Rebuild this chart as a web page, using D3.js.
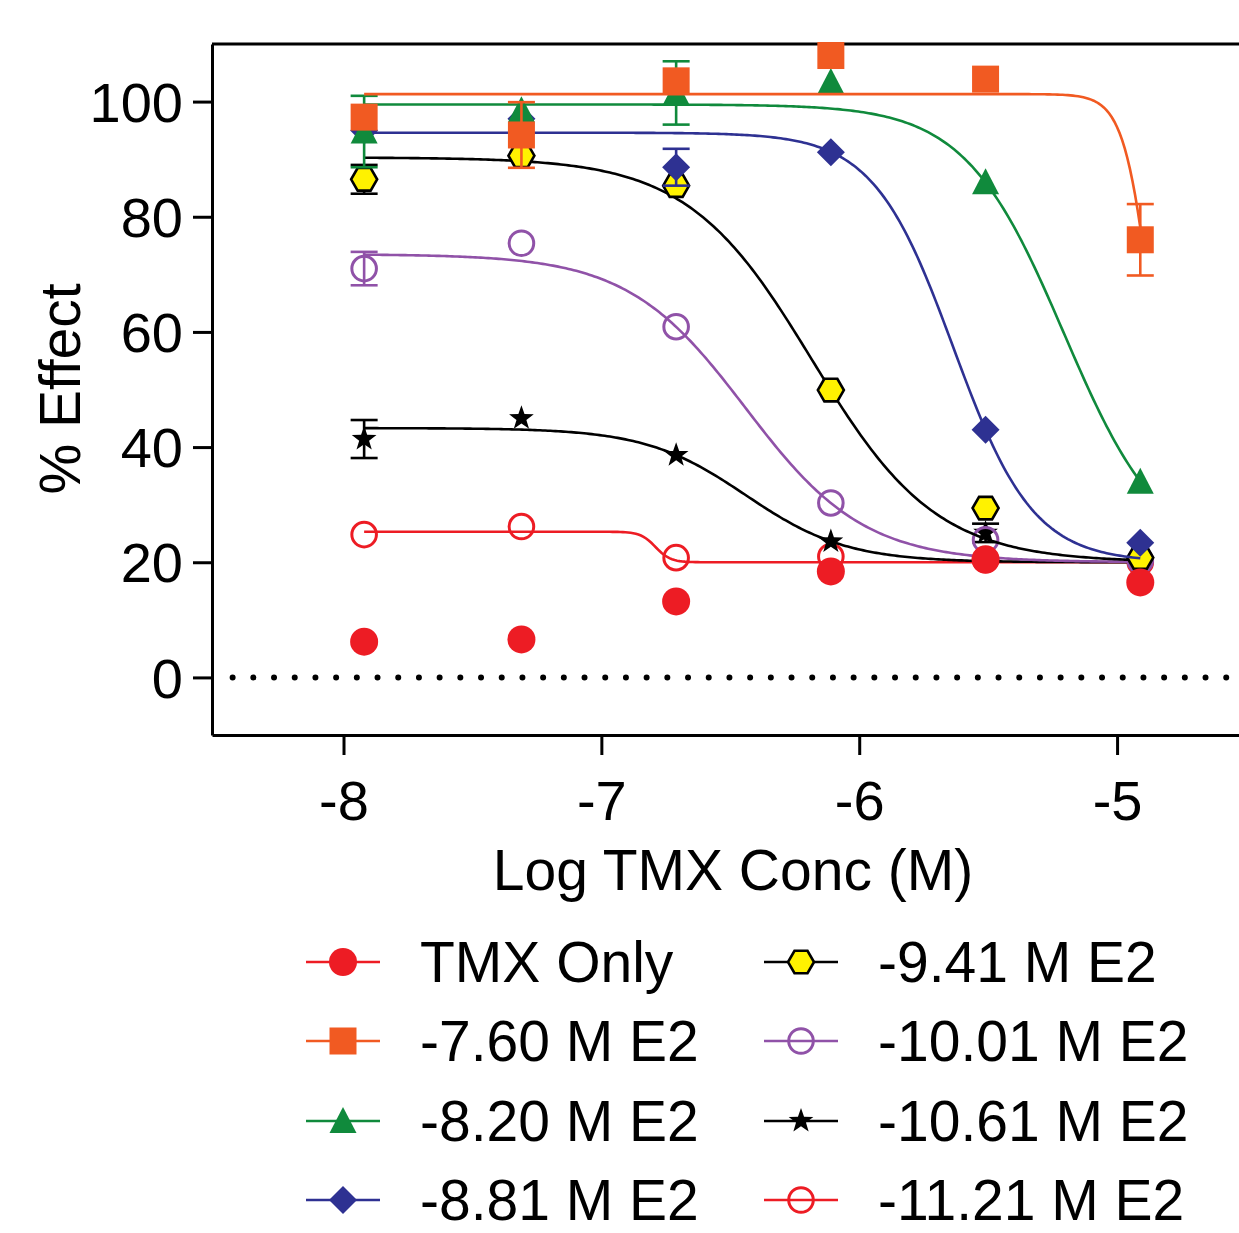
<!doctype html>
<html>
<head>
<meta charset="UTF-8">
<script src="https://cdnjs.cloudflare.com/ajax/libs/d3/7.8.5/d3.min.js"></script>
<style>
  body { margin: 0; background: #fff; }
  text { font-family: "Liberation Sans", Arial, sans-serif; fill: #000; }
</style>
</head>
<body>
<svg id="chart" width="1239" height="1233"></svg>
<script>
// log TMX concentration (M)
var logConc = [-7.92, -7.31, -6.71, -6.11, -5.51, -4.91];
var xTicks = [-8, -7, -6, -5];
var yTicks = [0, 20, 40, 60, 80, 100];

var labels = ["TMX Only", "-7.60 M E2", "-8.20 M E2", "-8.81 M E2",
              "-9.41 M E2", "-10.01 M E2", "-10.61 M E2", "-11.21 M E2"];

// % effect, one array per series
var tmxOnly = [6.2, 6.6, 13.2, 18.4, 20.5, 16.5];
var e2_760  = [97.3, 94.2, 103.6, 108.0, 103.9, 76.0];
var e2_820  = [94.8, 98.5, 101.5, 103.4, 86.0, 34.0];
var e2_881  = [95.0, 97.0, 88.6, 91.2, 43.0, 23.4];
var e2_941  = [86.5, 90.6, 85.4, 49.9, 29.4, 20.8];
var e2_1001 = [71.0, 75.4, 60.9, 30.3, 23.9, 20.3];
var e2_1061 = [41.4, 45.0, 38.6, 23.6, 25.1, 20.6];
var e2_1121 = [24.8, 26.2, 20.8, 21.0, 20.4, 20.0];

// SEM (0 = bar hidden behind the symbol)
var err_tmx  = [0, 0, 0, 0, 0, 0];
var err_760  = [0, 5.7, 0, 0, 0, 6.2];
var err_820  = [6.2, 0, 5.5, 0, 0, 0];
var err_881  = [0, 0, 3.2, 0, 0, 0];
var err_941  = [2.5, 0, 0, 0, 0, 0];
var err_1001 = [2.9, 0, 0, 0, 0, 0];
var err_1061 = [3.3, 0, 0, 0, 1.6, 0];
var err_1121 = [0, 0, 0, 0, 0, 0];

// fitted curves (null = no fit)
var fitTop    = [null, 101.3, 99.5, 94.6, 90.3, 73.5, 43.3, 25.3];
var fitBottom = [null, 20, 20, 20, 20, 20, 20, 20];
var fitIC50   = [null, -4.86, -5.206, -5.635, -6.183, -6.44, -6.44, -6.79];
var fitHill   = [null, 8, 2.26, 2.8, 1.8, 1.89, 2.22, 15];

var colors  = ["#ed1c24", "#f15a22", "#108a3c", "#2e3192", "#000000", "#9052a8", "#000000", "#ed1c24"];
var symbols = ["circle", "square", "triangle", "diamond", "hexagon", "openCircle", "star", "openCircle"];

var values = [tmxOnly, e2_760, e2_820, e2_881, e2_941, e2_1001, e2_1061, e2_1121];
var errors = [err_tmx, err_760, err_820, err_881, err_941, err_1001, err_1061, err_1121];

var svg = d3.select("#chart");

var x = d3.scaleLinear().domain([-8.51, -4.5]).range([212, 1246]);
var y = d3.scaleLinear().domain([-10, 110]).range([735, 44]);

function starPath(ro, ri) {
  var p = "";
  for (var k = 0; k < 10; k++) {
    var r = k % 2 === 0 ? ro : ri;
    var a = -Math.PI / 2 + k * Math.PI / 5;
    p += (k === 0 ? "M" : "L") + (r * Math.cos(a)).toFixed(2) + "," + (r * Math.sin(a)).toFixed(2);
  }
  return p + "Z";
}
function hexPath(r) {
  var p = "";
  for (var k = 0; k < 6; k++) {
    var a = k * Math.PI / 3;
    p += (k === 0 ? "M" : "L") + (r * Math.cos(a)).toFixed(2) + "," + (r * Math.sin(a)).toFixed(2);
  }
  return p + "Z";
}

function drawMarker(g, sym, color, cx, cy) {
  if (sym === "circle") {
    g.append("circle").attr("cx", cx).attr("cy", cy).attr("r", 14).attr("fill", color);
  } else if (sym === "openCircle") {
    g.append("circle").attr("cx", cx).attr("cy", cy).attr("r", 12.3)
      .attr("fill", "none").attr("stroke", color).attr("stroke-width", 3);
  } else if (sym === "square") {
    g.append("rect").attr("x", cx - 13.5).attr("y", cy - 13.5)
      .attr("width", 27).attr("height", 27).attr("fill", color);
  } else if (sym === "triangle") {
    g.append("path").attr("transform", "translate(" + cx + "," + cy + ")")
      .attr("d", "M0,-14L13.5,12L-13.5,12Z").attr("fill", color);
  } else if (sym === "diamond") {
    g.append("path").attr("transform", "translate(" + cx + "," + cy + ")")
      .attr("d", "M0,-14L14,0L0,14L-14,0Z").attr("fill", color);
  } else if (sym === "hexagon") {
    g.append("path").attr("transform", "translate(" + cx + "," + cy + ")")
      .attr("d", hexPath(13)).attr("fill", "#fff200")
      .attr("stroke", "#000").attr("stroke-width", 2.6);
  } else if (sym === "star") {
    g.append("path").attr("transform", "translate(" + cx + "," + cy + ")")
      .attr("d", starPath(13, 5.2)).attr("fill", color);
  }
}

// axes
var xAxis = svg.append("g")
  .attr("transform", "translate(0," + y(-10) + ")")
  .call(d3.axisBottom(x).tickValues(xTicks).tickFormat(function(d){ return String(d); })
        .tickSize(20).tickSizeOuter(0).tickPadding(25));
var yAxis = svg.append("g")
  .attr("transform", "translate(" + x(-8.51) + ",0)")
  .call(d3.axisLeft(y).tickValues(yTicks).tickFormat(function(d){ return String(d); })
        .tickSize(19).tickSizeOuter(0).tickPadding(10));

[xAxis, yAxis].forEach(function(a) {
  a.select(".domain").attr("stroke", "#000").attr("stroke-width", 3);
  a.selectAll(".tick line").attr("stroke", "#000").attr("stroke-width", 3);
  a.selectAll(".tick text").attr("font-size", 56)
    .attr("font-family", "'Liberation Sans', Arial, sans-serif").attr("fill", "#000");
});
yAxis.selectAll(".tick text").attr("dy", "0.35em");

// top frame line
svg.append("line")
  .attr("x1", x(-8.51)).attr("x2", x(-4.5))
  .attr("y1", y(110)).attr("y2", y(110))
  .attr("stroke", "#000").attr("stroke-width", 3);

// dotted zero line
svg.append("line")
  .attr("x1", x(-8.43)).attr("x2", x(-4.5))
  .attr("y1", y(0)).attr("y2", y(0))
  .attr("stroke", "#000").attr("stroke-width", 6)
  .attr("stroke-linecap", "round").attr("stroke-dasharray", "0,20.7");

// axis titles
svg.append("text")
  .attr("transform", "translate(80," + 389 + ") rotate(-90)")
  .attr("text-anchor", "middle").attr("font-size", 57)
  .text("% Effect");
svg.append("text")
  .attr("x", 733).attr("y", 890)
  .attr("text-anchor", "middle").attr("font-size", 57)
  .text("Log TMX Conc (M)");

// series, last one first so the first lies on top
var line = d3.line().x(function(d){ return x(d[0]); }).y(function(d){ return y(d[1]); });
var plot = svg.append("g");

for (var s = labels.length - 1; s >= 0; s--) {
  var g = plot.append("g");
  var c = colors[s];

  if (fitTop[s] !== null) {
    var pts = [];
    var x0 = logConc[0], x1 = logConc[logConc.length - 1];
    for (var k = 0; k <= 300; k++) {
      var xv = x0 + (x1 - x0) * k / 300;
      var yv = fitBottom[s] + (fitTop[s] - fitBottom[s]) /
               (1 + Math.pow(10, (xv - fitIC50[s]) * fitHill[s]));
      pts.push([xv, yv]);
    }
    g.append("path").attr("d", line(pts)).attr("fill", "none")
      .attr("stroke", c).attr("stroke-width", 2.6);
  }

  for (var i = 0; i < logConc.length; i++) {
    var v = values[s][i], e = errors[s][i];
    var cx = x(logConc[i]);
    if (e > 0) {
      g.append("line").attr("x1", cx).attr("x2", cx)
        .attr("y1", y(v - e)).attr("y2", y(v + e))
        .attr("stroke", c).attr("stroke-width", 2.6);
      [v - e, v + e].forEach(function(t) {
        g.append("line").attr("x1", cx - 13.5).attr("x2", cx + 13.5)
          .attr("y1", y(t)).attr("y2", y(t))
          .attr("stroke", c).attr("stroke-width", 2.6);
      });
    }
    drawMarker(g, symbols[s], c, cx, y(v));
  }
}

// legend
var legRows = [962, 1041, 1121, 1200];
var legCols = [{lx1: 306, lx2: 380, sx: 343, tx: 420},
               {lx1: 764, lx2: 838, sx: 801, tx: 878}];
var leg = svg.append("g");
labels.forEach(function(name, s) {
  var col = legCols[Math.floor(s / 4)];
  var ry = legRows[s % 4];
  leg.append("line").attr("x1", col.lx1).attr("x2", col.lx2)
    .attr("y1", ry).attr("y2", ry)
    .attr("stroke", colors[s]).attr("stroke-width", 2.6);
  drawMarker(leg, symbols[s], colors[s], col.sx, ry);
  leg.append("text").attr("x", col.tx).attr("y", ry + 20)
    .attr("font-size", 57).text(name);
});
</script>
</body>
</html>
